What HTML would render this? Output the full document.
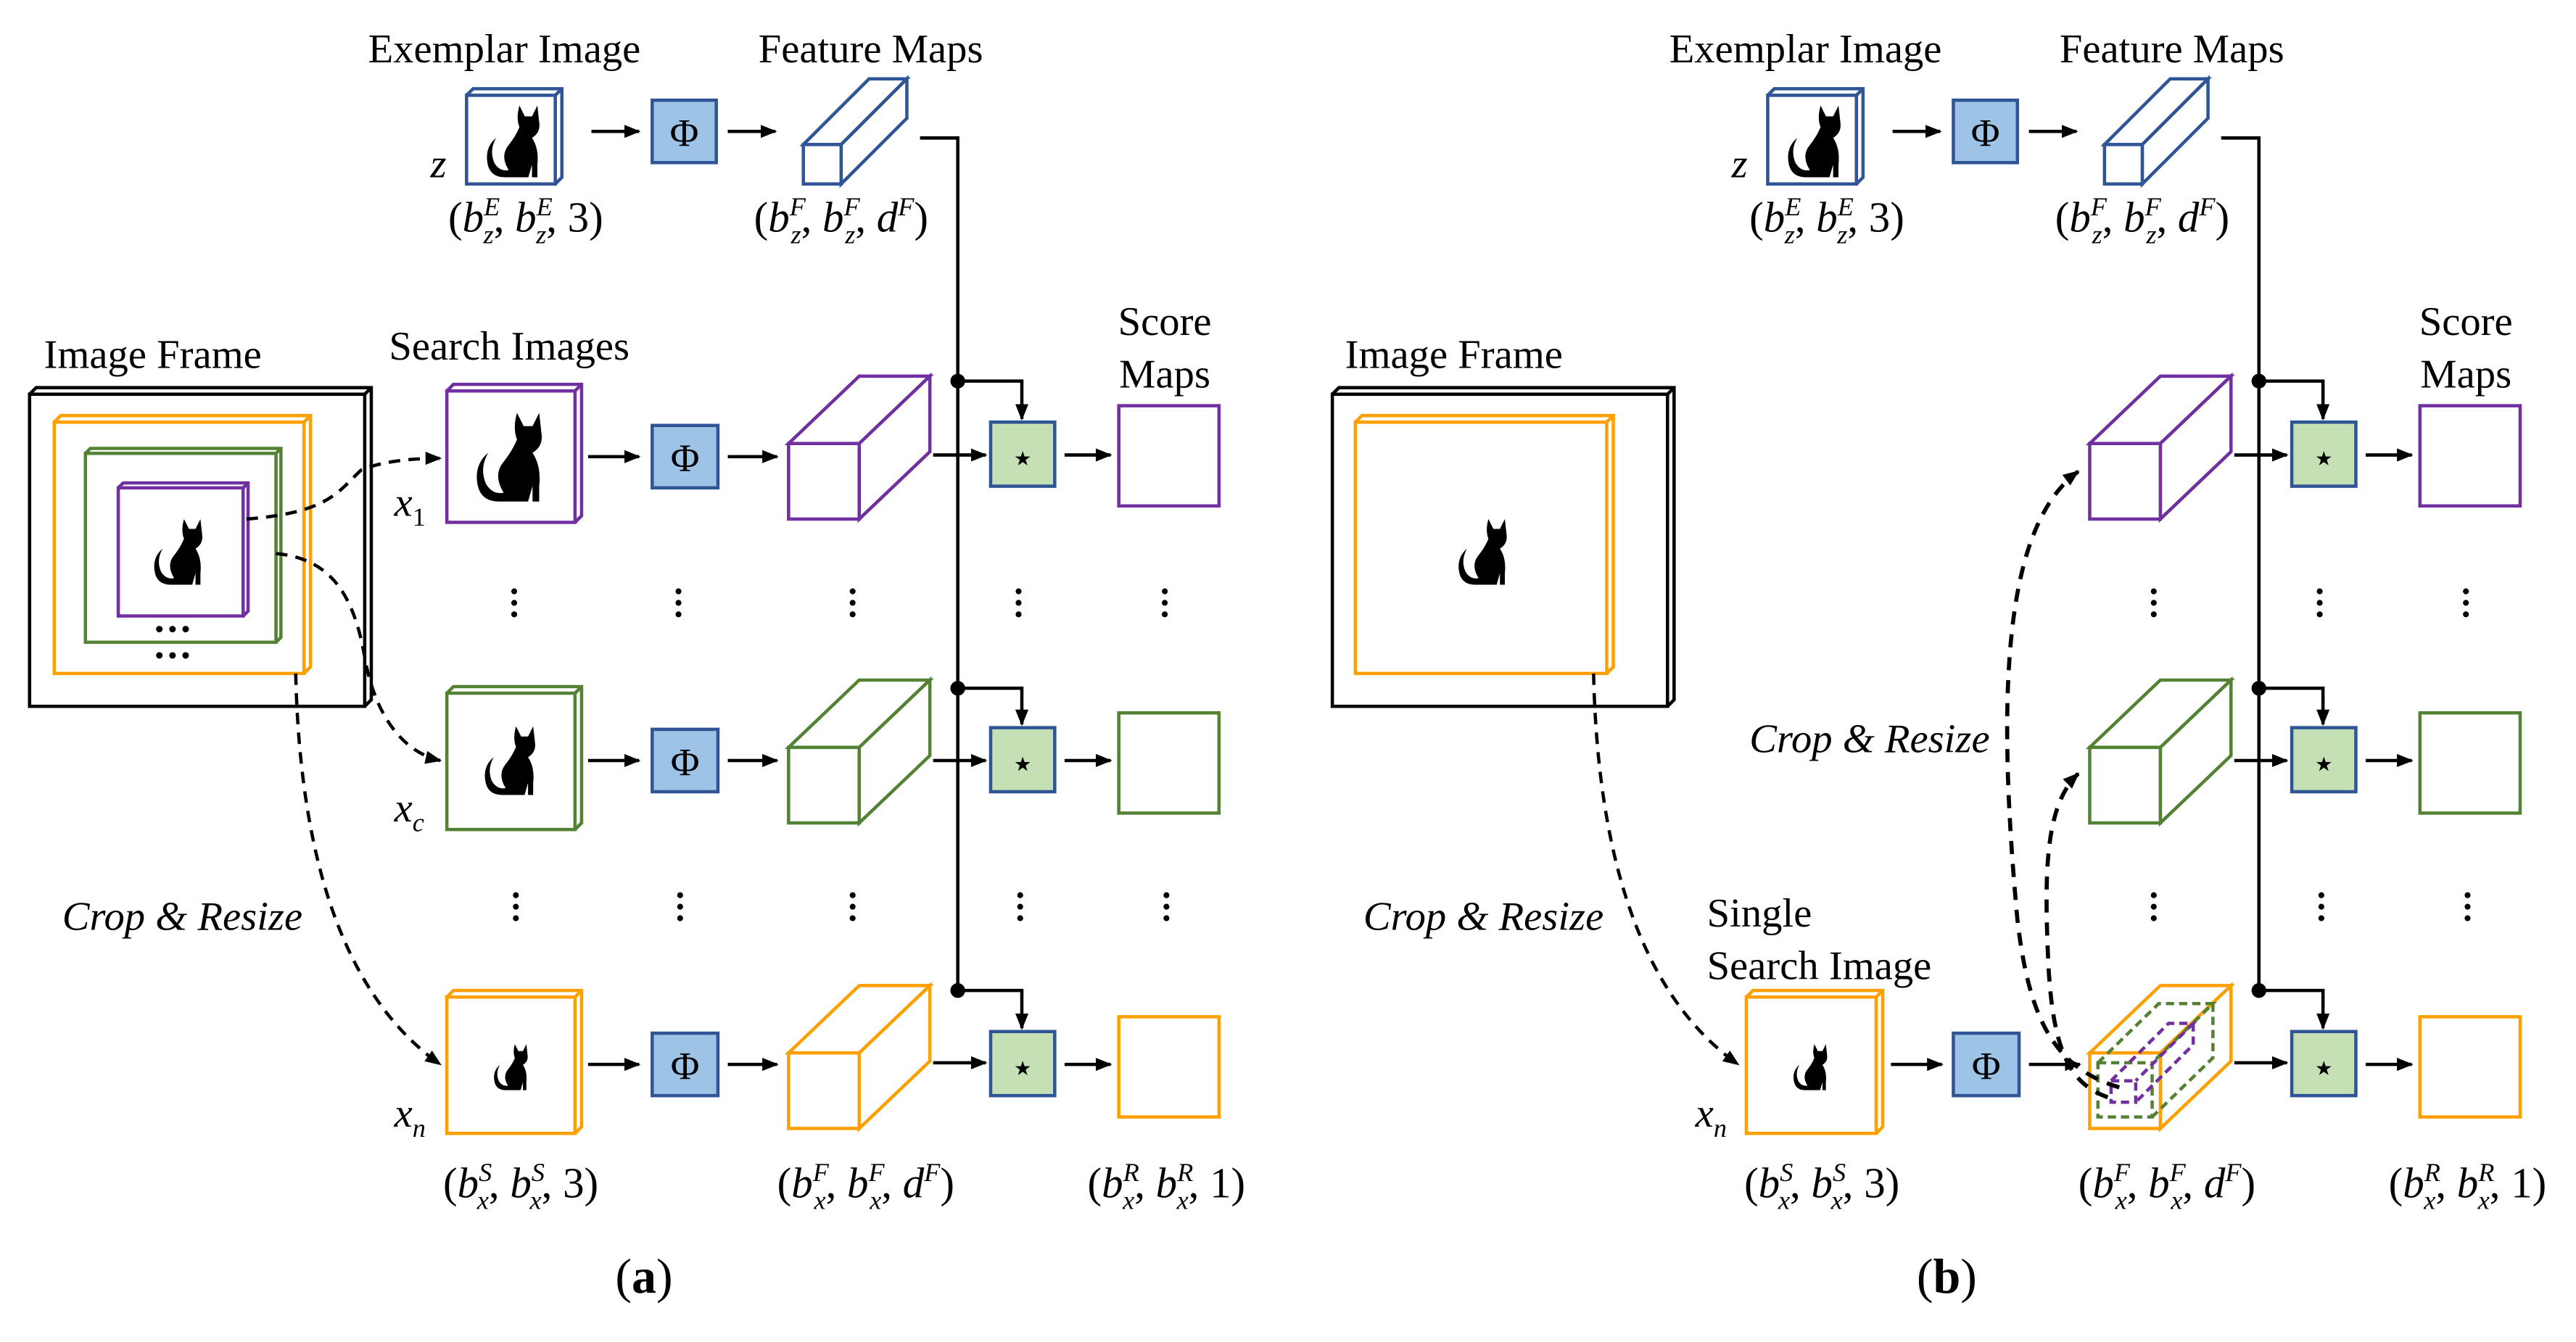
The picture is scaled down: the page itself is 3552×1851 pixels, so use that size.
<!DOCTYPE html>
<html><head><meta charset="utf-8"><style>html,body{margin:0;padding:0;background:#fff}svg{display:block}</style></head>
<body>
<svg width="3552" height="1851" viewBox="0 0 1568 817" preserveAspectRatio="none" xmlns="http://www.w3.org/2000/svg" font-family="'Liberation Serif', serif" font-size="25">
<defs>
<marker id="ah" markerWidth="10" markerHeight="10" refX="9" refY="5" orient="auto" markerUnits="userSpaceOnUse"><path d="M0,1 L10,5 L0,9 z" fill="#000"/></marker>
<symbol id="cat" viewBox="0 0 40 44">
<path d="M22,3 L25,9 L29,9 L32,3 L33,12 Q34,18 29,21 Q33,27 32,36 L32,43 L29,43 L29,36 L27,43 L14,43 Q5,43 4,34 Q3,26 9,21 Q5,28 8,35 Q11,40 16,39 Q11,31 16,25 Q20,20 22,15 Q20,10 22,3 Z" fill="#000"/>
</symbol>
</defs>
<rect width="1568" height="817" fill="#fff"/>

<g id="common" stroke-width="2">
<text x="307" y="38" text-anchor="middle">Exemplar Image</text>
<path d="M284,58 L288,54 L342,54 L342,108 L338,112 M338,58 L342,54" fill="none" stroke="#2f5597"/>
<rect x="284" y="58" width="54" height="54" fill="#fff" stroke="#2f5597"/>
<use href="#cat" x="291" y="61" width="46" height="48"/>
<text x="262" y="108" font-style="italic">z</text>
<text x="320" y="141" text-anchor="middle" font-size="26">(<tspan font-style="italic">b</tspan><tspan font-size="16" dy="-10" font-style="italic">E</tspan><tspan font-size="16" dx="-10" dy="17" font-style="italic">z</tspan><tspan dy="-7">, </tspan><tspan font-style="italic">b</tspan><tspan font-size="16" dy="-10" font-style="italic">E</tspan><tspan font-size="16" dx="-10" dy="17" font-style="italic">z</tspan><tspan dy="-7">, 3)</tspan></text>
<line x1="360" y1="80" x2="389" y2="80" stroke="#000" marker-end="url(#ah)"/>
<rect x="397" y="61" width="39" height="38" fill="#9dc3e6" stroke="#2f5597"/>
<text x="416.5" y="89" text-anchor="middle" font-size="24">Φ</text>
<line x1="443" y1="80" x2="472" y2="80" stroke="#000" marker-end="url(#ah)"/>
<g fill="#fff" stroke="#2f5597">
<path d="M489,88 L529,48 L552,48 L512,88 Z"/>
<path d="M512,88 L552,48 L552,72 L512,112 Z"/>
<rect x="489" y="88" width="23" height="24"/>
</g>
<text x="530" y="38" text-anchor="middle">Feature Maps</text>
<text x="512" y="141" text-anchor="middle" font-size="26">(<tspan font-style="italic">b</tspan><tspan font-size="16" dy="-10" font-style="italic">F</tspan><tspan font-size="16" dx="-9" dy="17" font-style="italic">z</tspan><tspan dy="-7">, </tspan><tspan font-style="italic">b</tspan><tspan font-size="16" dy="-10" font-style="italic">F</tspan><tspan font-size="16" dx="-9" dy="17" font-style="italic">z</tspan><tspan dy="-7">, </tspan><tspan font-style="italic">d</tspan><tspan font-size="16" dy="-10" font-style="italic">F</tspan><tspan dy="10">)</tspan></text>
<polyline points="560,84 583,84 583,603" fill="none" stroke="#000"/>
<text x="709" y="204" text-anchor="middle">Score</text>
<text x="709" y="236" text-anchor="middle">Maps</text>

<g>
<circle cx="583" cy="232" r="4.5" fill="#000"/>
<polyline points="583,232 622,232 622,255" fill="none" stroke="#000" marker-end="url(#ah)"/>
<line x1="568" y1="277" x2="600" y2="277" stroke="#000" marker-end="url(#ah)"/>
<rect x="603" y="257" width="39" height="39" fill="#c5e0b4" stroke="#2f5597"/>
<text x="622.5" y="287" text-anchor="middle" font-size="24">⋆</text>
<line x1="648" y1="277" x2="676" y2="277" stroke="#000" marker-end="url(#ah)"/>
<rect x="681" y="247" width="61" height="61" fill="none" stroke="#7030a0"/>

<circle cx="583" cy="419" r="4.5" fill="#000"/>
<polyline points="583,419 622,419 622,441" fill="none" stroke="#000" marker-end="url(#ah)"/>
<line x1="568" y1="463" x2="600" y2="463" stroke="#000" marker-end="url(#ah)"/>
<rect x="603" y="443" width="39" height="39" fill="#c5e0b4" stroke="#2f5597"/>
<text x="622.5" y="473" text-anchor="middle" font-size="24">⋆</text>
<line x1="648" y1="463" x2="676" y2="463" stroke="#000" marker-end="url(#ah)"/>
<rect x="681" y="434" width="61" height="61" fill="none" stroke="#548235"/>

<circle cx="583" cy="603" r="4.5" fill="#000"/>
<polyline points="583,603 622,603 622,626" fill="none" stroke="#000" marker-end="url(#ah)"/>
<line x1="568" y1="647" x2="600" y2="647" stroke="#000" marker-end="url(#ah)"/>
<rect x="603" y="628" width="39" height="39" fill="#c5e0b4" stroke="#2f5597"/>
<text x="622.5" y="658" text-anchor="middle" font-size="24">⋆</text>
<line x1="648" y1="648" x2="676" y2="648" stroke="#000" marker-end="url(#ah)"/>
<rect x="681" y="619" width="61" height="61" fill="none" stroke="#ffa000"/>
</g>
<g fill="#fff">
<g stroke="#7030a0"><path d="M480,270 L523,229 L566,229 L523,270 Z"/><path d="M523,270 L566,229 L566,275 L523,316 Z"/><rect x="480" y="270" width="43" height="46"/></g>
<g stroke="#548235"><path d="M480,455 L523,414 L566,414 L523,455 Z"/><path d="M523,455 L566,414 L566,460 L523,501 Z"/><rect x="480" y="455" width="43" height="46"/></g>
<g stroke="#ffa000"><path d="M480,641 L523,600 L566,600 L523,641 Z"/><path d="M523,641 L566,600 L566,646 L523,687 Z"/><rect x="480" y="641" width="43" height="46"/></g>
</g>
<text x="710" y="729" text-anchor="middle" font-size="26">(<tspan font-style="italic">b</tspan><tspan font-size="16" dy="-10" font-style="italic">R</tspan><tspan font-size="16" dx="-10" dy="17" font-style="italic">x</tspan><tspan dy="-7">, </tspan><tspan font-style="italic">b</tspan><tspan font-size="16" dy="-10" font-style="italic">R</tspan><tspan font-size="16" dx="-10" dy="17" font-style="italic">x</tspan><tspan dy="-7">, 1)</tspan></text>
<text x="527" y="729" text-anchor="middle" font-size="26">(<tspan font-style="italic">b</tspan><tspan font-size="16" dy="-10" font-style="italic">F</tspan><tspan font-size="16" dx="-9" dy="17" font-style="italic">x</tspan><tspan dy="-7">, </tspan><tspan font-style="italic">b</tspan><tspan font-size="16" dy="-10" font-style="italic">F</tspan><tspan font-size="16" dx="-9" dy="17" font-style="italic">x</tspan><tspan dy="-7">, </tspan><tspan font-style="italic">d</tspan><tspan font-size="16" dy="-10" font-style="italic">F</tspan><tspan dy="10">)</tspan></text>
<g fill="#000">
<circle cx="519" cy="360" r="1.8"/><circle cx="519" cy="367" r="1.8"/><circle cx="519" cy="374" r="1.8"/>
<circle cx="620" cy="360" r="1.8"/><circle cx="620" cy="367" r="1.8"/><circle cx="620" cy="374" r="1.8"/>
<circle cx="709" cy="360" r="1.8"/><circle cx="709" cy="367" r="1.8"/><circle cx="709" cy="374" r="1.8"/>
<circle cx="519" cy="545" r="1.8"/><circle cx="519" cy="552" r="1.8"/><circle cx="519" cy="559" r="1.8"/>
<circle cx="621" cy="545" r="1.8"/><circle cx="621" cy="552" r="1.8"/><circle cx="621" cy="559" r="1.8"/>
<circle cx="710" cy="545" r="1.8"/><circle cx="710" cy="552" r="1.8"/><circle cx="710" cy="559" r="1.8"/>
</g>
</g>
<use href="#common" transform="translate(792,0)"/>

<g stroke-width="2">
<text x="93" y="224" text-anchor="middle">Image Frame</text>
<path d="M18,240 L22,236 L226,236 L226,426 L222,430 M222,240 L226,236" fill="none" stroke="#000"/>
<rect x="18" y="240" width="204" height="190" fill="#fff" stroke="#000"/>
<path d="M33,257 L37,253 L189,253 L189,406 L185,410 M185,257 L189,253" fill="none" stroke="#ffa000"/>
<rect x="33" y="257" width="152" height="153" fill="#fff" stroke="#ffa000"/>
<path d="M52,276 L55,273 L171,273 L171,388 L168,391 M168,276 L171,273" fill="none" stroke="#548235"/>
<rect x="52" y="276" width="116" height="115" fill="#fff" stroke="#548235"/>
<path d="M72,297 L75,294 L151,294 L151,372 L148,375 M148,297 L151,294" fill="none" stroke="#7030a0"/>
<rect x="72" y="297" width="76" height="78" fill="#fff" stroke="#7030a0"/>
<use href="#cat" x="90" y="313" width="40" height="44"/>
<g fill="#000"><circle cx="97" cy="383" r="2"/><circle cx="105" cy="383" r="2"/><circle cx="113" cy="383" r="2"/>
<circle cx="97" cy="399" r="2"/><circle cx="105" cy="399" r="2"/><circle cx="113" cy="399" r="2"/></g>
<text x="310" y="219" text-anchor="middle">Search Images</text>
<path d="M272,238 L276,234 L354,234 L354,314 L350,318 M350,238 L354,234" fill="none" stroke="#7030a0"/>
<rect x="272" y="238" width="78" height="80" fill="#fff" stroke="#7030a0"/>
<use href="#cat" x="285" y="247" width="54" height="60"/>
<path d="M272,422 L276,418 L354,418 L354,501 L350,505 M350,422 L354,418" fill="none" stroke="#548235"/>
<rect x="272" y="422" width="78" height="83" fill="#fff" stroke="#548235"/>
<use href="#cat" x="291" y="439" width="42" height="46"/>
<path d="M272,607 L276,603 L354,603 L354,686 L350,690 M350,607 L354,603" fill="none" stroke="#ffa000"/>
<rect x="272" y="607" width="78" height="83" fill="#fff" stroke="#ffa000"/>
<use href="#cat" x="298" y="633" width="28" height="32"/>
<text x="240" y="314" font-style="italic">x<tspan font-size="16" dy="6" font-style="normal">1</tspan></text>
<text x="240" y="500" font-style="italic">x<tspan font-size="16" dy="6">c</tspan></text>
<text x="240" y="686" font-style="italic">x<tspan font-size="16" dy="6">n</tspan></text>
<line x1="358" y1="278" x2="389" y2="278" stroke="#000" marker-end="url(#ah)"/>
<rect x="397" y="259" width="40" height="38" fill="#9dc3e6" stroke="#2f5597"/><text x="417" y="287" text-anchor="middle" font-size="24">Φ</text>
<line x1="443" y1="278" x2="473" y2="278" stroke="#000" marker-end="url(#ah)"/>
<line x1="358" y1="463" x2="389" y2="463" stroke="#000" marker-end="url(#ah)"/>
<rect x="397" y="444" width="40" height="38" fill="#9dc3e6" stroke="#2f5597"/><text x="417" y="472" text-anchor="middle" font-size="24">Φ</text>
<line x1="443" y1="463" x2="473" y2="463" stroke="#000" marker-end="url(#ah)"/>
<line x1="358" y1="648" x2="389" y2="648" stroke="#000" marker-end="url(#ah)"/>
<rect x="397" y="629" width="40" height="38" fill="#9dc3e6" stroke="#2f5597"/><text x="417" y="657" text-anchor="middle" font-size="24">Φ</text>
<line x1="443" y1="648" x2="473" y2="648" stroke="#000" marker-end="url(#ah)"/>
<g fill="#000">
<circle cx="313" cy="360" r="1.8"/><circle cx="313" cy="367" r="1.8"/><circle cx="313" cy="374" r="1.8"/>
<circle cx="413" cy="360" r="1.8"/><circle cx="413" cy="367" r="1.8"/><circle cx="413" cy="374" r="1.8"/>
<circle cx="314" cy="545" r="1.8"/><circle cx="314" cy="552" r="1.8"/><circle cx="314" cy="559" r="1.8"/>
<circle cx="414" cy="545" r="1.8"/><circle cx="414" cy="552" r="1.8"/><circle cx="414" cy="559" r="1.8"/>
</g>
<g fill="none" stroke="#000" stroke-dasharray="7,5">
<path d="M150,316 C200,312 205,300 220,286 C235,280 255,279 268,279" marker-end="url(#ah)"/>
<path d="M168,337 C200,340 215,360 222,400 C228,435 245,458 268,463" marker-end="url(#ah)"/>
<path d="M180,410 C182,500 200,600 268,648" marker-end="url(#ah)"/>
</g>
<text x="111" y="566" text-anchor="middle" font-style="italic">Crop &amp; Resize</text>
<text x="317" y="729" text-anchor="middle" font-size="26">(<tspan font-style="italic">b</tspan><tspan font-size="16" dy="-10" font-style="italic">S</tspan><tspan font-size="16" dx="-9" dy="17" font-style="italic">x</tspan><tspan dy="-7">, </tspan><tspan font-style="italic">b</tspan><tspan font-size="16" dy="-10" font-style="italic">S</tspan><tspan font-size="16" dx="-9" dy="17" font-style="italic">x</tspan><tspan dy="-7">, 3)</tspan></text>
<text x="392" y="787" text-anchor="middle" font-size="30">(<tspan font-weight="bold">a</tspan>)</text>
</g>

<g stroke-width="2">
<text x="885" y="224" text-anchor="middle">Image Frame</text>
<path d="M811,240 L815,236 L1019,236 L1019,426 L1015,430 M1015,240 L1019,236" fill="none" stroke="#000"/>
<rect x="811" y="240" width="204" height="190" fill="#fff" stroke="#000"/>
<path d="M825,257 L829,253 L982,253 L982,406 L978,410 M978,257 L982,253" fill="none" stroke="#ffa000"/>
<rect x="825" y="257" width="153" height="153" fill="#fff" stroke="#ffa000"/>
<use href="#cat" x="884" y="313" width="40" height="44"/>
<path d="M970,410 C972,500 990,600 1058,648" fill="none" stroke="#000" stroke-dasharray="7,5" marker-end="url(#ah)"/>
<text x="903" y="566" text-anchor="middle" font-style="italic">Crop &amp; Resize</text>
<text x="1039" y="564">Single</text>
<text x="1039" y="596">Search Image</text>
<path d="M1063,607 L1067,603 L1146,603 L1146,686 L1142,690 M1142,607 L1146,603" fill="none" stroke="#ffa000"/>
<rect x="1063" y="607" width="79" height="83" fill="#fff" stroke="#ffa000"/>
<use href="#cat" x="1089" y="633" width="28" height="32"/>
<text x="1032" y="686" font-style="italic">x<tspan font-size="16" dy="6">n</tspan></text>
<line x1="1151" y1="648" x2="1182" y2="648" stroke="#000" marker-end="url(#ah)"/>
<rect x="1189" y="629" width="40" height="38" fill="#9dc3e6" stroke="#2f5597"/><text x="1209" y="657" text-anchor="middle" font-size="24">Φ</text>
<line x1="1235" y1="648" x2="1266" y2="648" stroke="#000" marker-end="url(#ah)"/>
<g fill="none" stroke-dasharray="5,3">
<g stroke="#548235"><rect x="1277" y="647" width="33" height="33"/><path d="M1277,647 L1314,611 L1347,611 L1310,647 M1347,611 L1347,644 L1310,680"/></g>
<g stroke="#7030a0"><rect x="1285" y="658" width="15" height="13"/><path d="M1285,658 L1320,623 L1335,623 L1300,658 M1335,623 L1335,636 L1300,671"/></g>
</g>
<g fill="none" stroke="#000" stroke-dasharray="8,6" stroke-width="2.5">
<path d="M1290,662 C1250,650 1235,620 1228,560 C1215,420 1220,320 1265,287" marker-end="url(#ah)"/>
<path d="M1283,668 C1260,660 1250,640 1247,590 C1244,530 1245,490 1265,471" marker-end="url(#ah)"/>
</g>
<text x="1138" y="458" text-anchor="middle" font-style="italic">Crop &amp; Resize</text>
<text x="1109" y="729" text-anchor="middle" font-size="26">(<tspan font-style="italic">b</tspan><tspan font-size="16" dy="-10" font-style="italic">S</tspan><tspan font-size="16" dx="-9" dy="17" font-style="italic">x</tspan><tspan dy="-7">, </tspan><tspan font-style="italic">b</tspan><tspan font-size="16" dy="-10" font-style="italic">S</tspan><tspan font-size="16" dx="-9" dy="17" font-style="italic">x</tspan><tspan dy="-7">, 3)</tspan></text>
<text x="1185" y="787" text-anchor="middle" font-size="30">(<tspan font-weight="bold">b</tspan>)</text>
</g>
</svg>
</body></html>
